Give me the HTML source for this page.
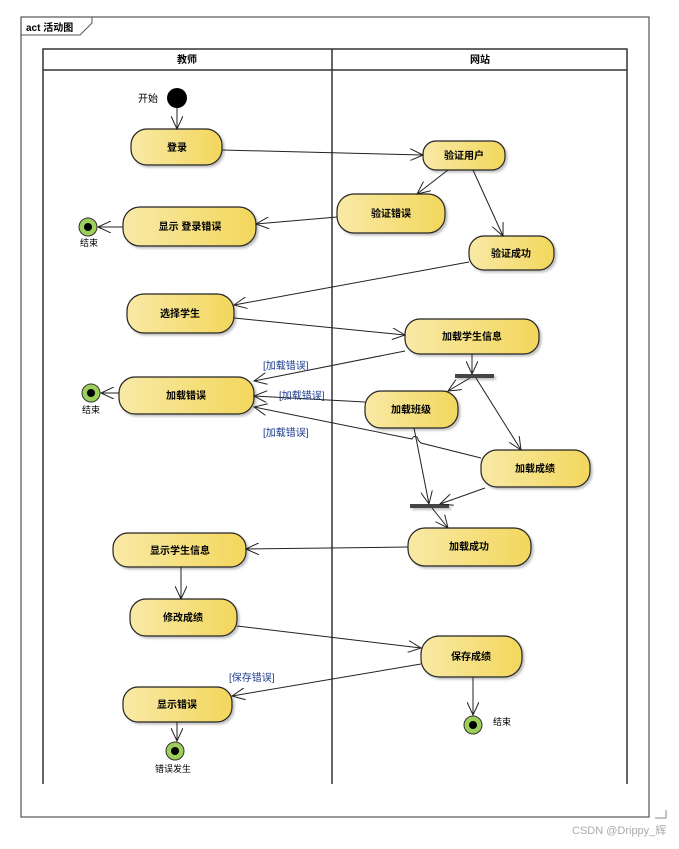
<!DOCTYPE html>
<html><head><meta charset="utf-8"><style>
body{margin:0;background:#fff}
text{font-family:"Liberation Sans","Noto Sans CJK SC",sans-serif}
.n{fill:url(#g);stroke:#222;stroke-width:1.2}
.t{font-size:10px;font-weight:bold;text-anchor:middle}
.e{stroke:#222;stroke-width:1;fill:none;marker-end:url(#a)}
.l{font-size:10px;fill:#1a3a8a}
</style></head><body>
<svg width="679" height="844" xmlns="http://www.w3.org/2000/svg">
<defs>
<linearGradient id="g" x1="0" x2="1"><stop offset="0" stop-color="#f9e9a6"/><stop offset="1" stop-color="#f2d75c"/></linearGradient>
<marker id="a" markerWidth="14" markerHeight="12" refX="13" refY="6" orient="auto" markerUnits="userSpaceOnUse"><path d="M0,0 L13,6 L0,12" fill="none" stroke="#222" stroke-width="1"/></marker>
<filter id="s"><feDropShadow dx="2" dy="2" stdDeviation="1" flood-color="#999" flood-opacity="0.6"/></filter>
</defs>
<rect x="21" y="17" width="628" height="800" fill="none" stroke="#555" stroke-width="1.2"/>
<path d="M21,35 H80 L92,23 V17" fill="none" stroke="#555"/>
<text x="26" y="31" font-size="10" font-weight="bold">act 活动图</text>
<path d="M43,784 V49 H627 V784 M43,70 H627 M332,49 V784" fill="none" stroke="#333" stroke-width="1.5"/>
<text x="187" y="63" class="t">教师</text>
<text x="480" y="63" class="t">网站</text>
<g filter="url(#s)">
<rect class="n" x="131" y="129" width="91" height="36" rx="16"/>
<rect class="n" x="423" y="141" width="82" height="29" rx="13"/>
<rect class="n" x="337" y="194" width="108" height="39" rx="17"/>
<rect class="n" x="123" y="207" width="133" height="39" rx="17"/>
<rect class="n" x="469" y="236" width="85" height="34" rx="15"/>
<rect class="n" x="127" y="294" width="107" height="39" rx="17"/>
<rect class="n" x="405" y="319" width="134" height="35" rx="15"/>
<rect class="n" x="119" y="377" width="135" height="37" rx="16"/>
<rect class="n" x="365" y="391" width="93" height="37" rx="16"/>
<rect class="n" x="481" y="450" width="109" height="37" rx="16"/>
<rect class="n" x="408" y="528" width="123" height="38" rx="17"/>
<rect class="n" x="113" y="533" width="133" height="34" rx="15"/>
<rect class="n" x="130" y="599" width="107" height="37" rx="16"/>
<rect class="n" x="421" y="636" width="101" height="41" rx="18"/>
<rect class="n" x="123" y="687" width="109" height="35" rx="15"/>
<rect x="455" y="374" width="39" height="4" fill="#444"/>
<rect x="410" y="504" width="39" height="4" fill="#444"/>
</g>
<text class="t" x="177" y="151">登录</text>
<text class="t" x="464" y="159">验证用户</text>
<text class="t" x="391" y="217">验证错误</text>
<text class="t" x="190" y="230">显示 登录错误</text>
<text class="t" x="511" y="257">验证成功</text>
<text class="t" x="180" y="317">选择学生</text>
<text class="t" x="472" y="340">加载学生信息</text>
<text class="t" x="186" y="399">加载错误</text>
<text class="t" x="411" y="413">加载班级</text>
<text class="t" x="535" y="472">加载成绩</text>
<text class="t" x="469" y="550">加载成功</text>
<text class="t" x="180" y="554">显示学生信息</text>
<text class="t" x="183" y="621">修改成绩</text>
<text class="t" x="471" y="660">保存成绩</text>
<text class="t" x="177" y="708">显示错误</text>
<circle cx="177" cy="98" r="10" fill="#000"/>
<text x="138" y="102" font-size="10">开始</text>
<g fill="#9ccf5a" stroke="#333"><circle cx="88" cy="227" r="9"/><circle cx="91" cy="393" r="9"/><circle cx="175" cy="751" r="9"/><circle cx="473" cy="725" r="9"/></g>
<g fill="#000"><circle cx="88" cy="227" r="4"/><circle cx="91" cy="393" r="4"/><circle cx="175" cy="751" r="4"/><circle cx="473" cy="725" r="4"/></g>
<text x="80" y="246" font-size="9">结束</text>
<text x="82" y="413" font-size="9">结束</text>
<text x="155" y="772" font-size="9">错误发生</text>
<text x="493" y="725" font-size="9">结束</text>
<path class="e" d="M177,108 V129"/>
<path class="e" d="M222,150 L423,155"/>
<path class="e" d="M448,170 L417,194"/>
<path class="e" d="M473,170 L503,236"/>
<path class="e" d="M337,217 L256,224"/>
<path class="e" d="M123,227 L98,227"/>
<path class="e" d="M469,262 L234,305"/>
<path class="e" d="M234,318 L405,335"/>
<path class="e" d="M405,351 L254,381"/>
<path class="e" d="M472,354 V374"/>
<path class="e" d="M470,378 L448,391"/>
<path class="e" d="M476,378 L521,450"/>
<path class="e" d="M365,402 L254,396"/>
<path class="e" d="M481,458 L421,443 L418,440 A3,3 0 0 0 412,439 L254,407"/>
<path class="e" d="M414,428 L429,504"/>
<path class="e" d="M485,488 L440,504"/>
<path class="e" d="M432,508 L448,528"/>
<path class="e" d="M119,393 L101,393"/>
<path class="e" d="M408,547 L246,549"/>
<path class="e" d="M181,567 V599"/>
<path class="e" d="M237,626 L421,648"/>
<path class="e" d="M421,664 L232,696"/>
<path class="e" d="M473,677 V715"/>
<path class="e" d="M177,722 V741"/>
<text class="l" x="263" y="369">[加载错误]</text>
<text class="l" x="279" y="399">[加载错误]</text>
<text class="l" x="263" y="436">[加载错误]</text>
<text class="l" x="229" y="681">[保存错误]</text>
<text x="572" y="834" font-size="11" fill="#aaa">CSDN @Drippy_辉</text>
<path d="M666,810 V818 H655" fill="none" stroke="#888"/>
</svg>
</body></html>
